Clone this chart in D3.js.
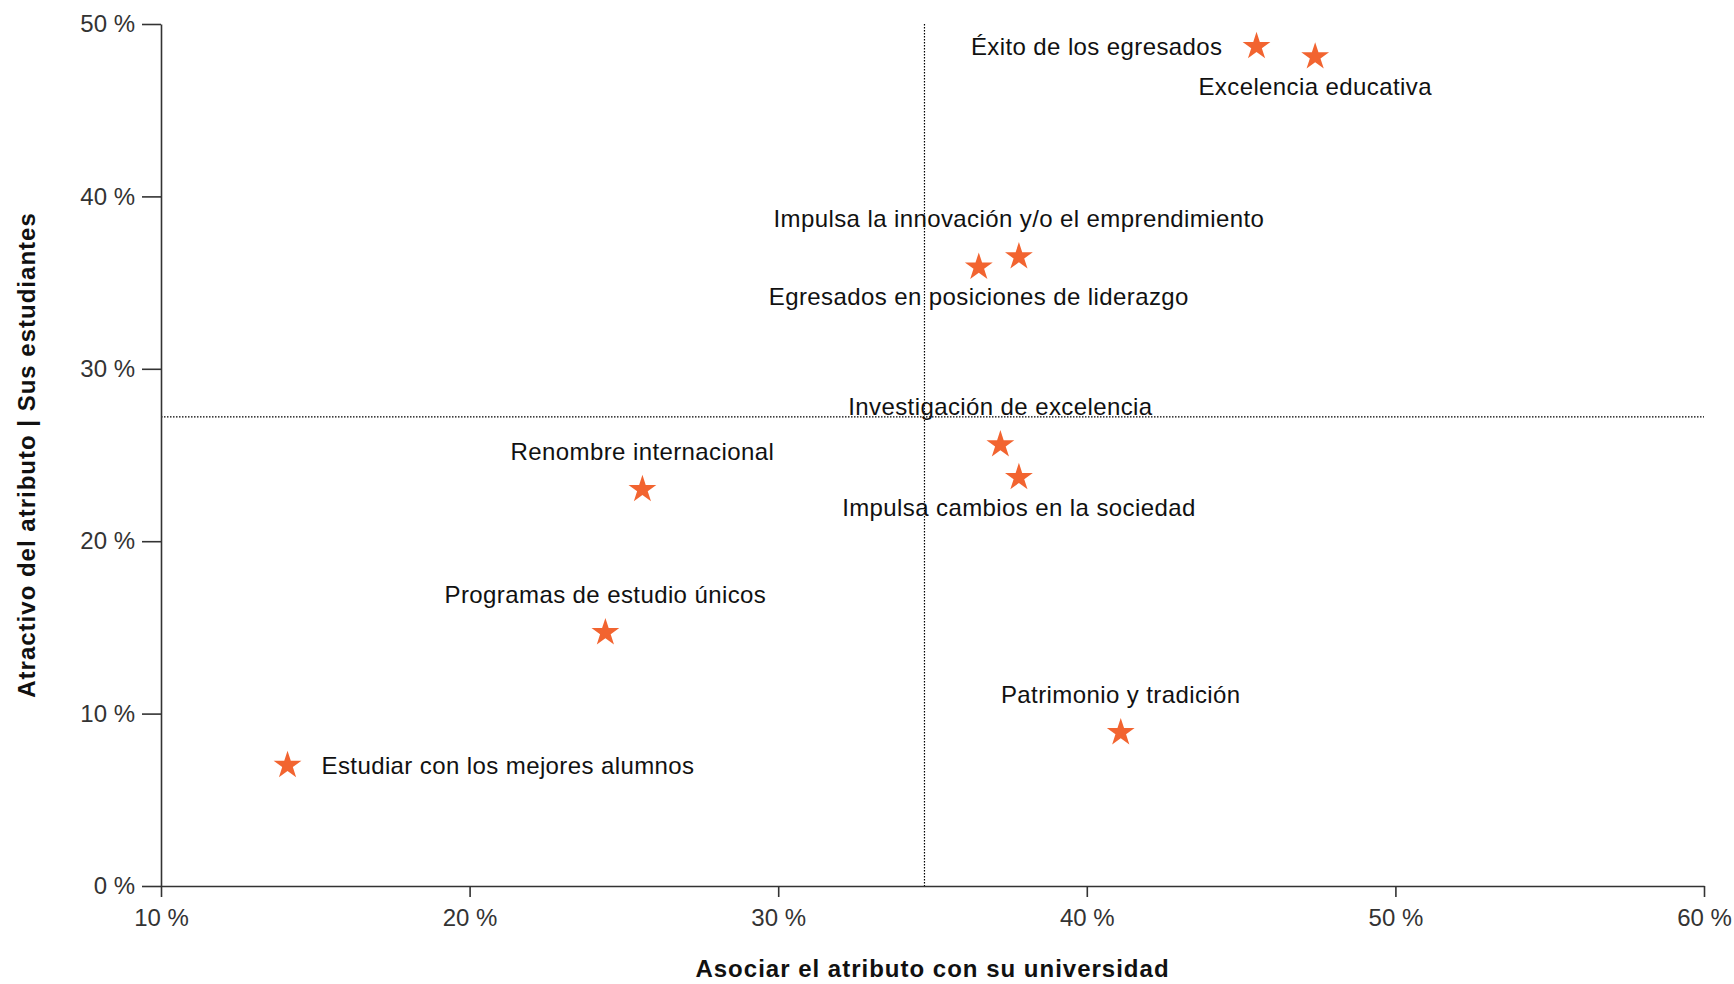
<!DOCTYPE html>
<html>
<head>
<meta charset="utf-8">
<script src="https://cdn.jsdelivr.net/npm/d3@7"></script>
<style>
  body { margin: 0; background: #fff; }
  svg { display: block; font-family: "Liberation Sans", Arial, sans-serif; }
</style>
</head>
<body>
<div class="chart"></div>
<script>
const attributes = [
  "Éxito de los egresados",
  "Excelencia educativa",
  "Impulsa la innovación y/o el emprendimiento",
  "Egresados en posiciones de liderazgo",
  "Investigación de excelencia",
  "Impulsa cambios en la sociedad",
  "Renombre internacional",
  "Programas de estudio únicos",
  "Patrimonio y tradición",
  "Estudiar con los mejores alumnos"
];
// x: asociar el atributo con su universidad (%)
const association = [45.5, 47.4, 37.8, 36.5, 37.2, 37.8, 25.6, 24.4, 41.1, 14.1];
// y: atractivo del atributo (%)
const attractiveness = [48.7, 48.1, 36.5, 35.9, 25.6, 23.7, 23.0, 14.7, 8.9, 7.0];
// where each label sits next to its star
const labelSide = ["left", "below", "above", "below", "above", "below", "above", "above", "above", "right"];

const xTicks = [10, 20, 30, 40, 50, 60];
const yTicks = [0, 10, 20, 30, 40, 50];

const width = 1734, height = 984;
const margin = { top: 24, right: 30, bottom: 98, left: 161 };

const svg = d3.select(".chart")
  .append("svg")
  .attr("width", width)
  .attr("height", height);

const x = d3.scaleLinear()
  .domain([10, 60])
  .range([margin.left, width - margin.right]);

const y = d3.scaleLinear()
  .domain([0, 50])
  .range([height - margin.bottom, margin.top]);

const fmt = d => d + " %";

// mean reference lines
const meanX = d3.mean(association);
const meanY = d3.mean(attractiveness);

svg.append("line")
  .attr("x1", x(meanX)).attr("x2", x(meanX))
  .attr("y1", y(50)).attr("y2", y(0))
  .attr("stroke", "#000")
  .attr("stroke-width", 1.2)
  .attr("stroke-dasharray", "1.5,1.5");

svg.append("line")
  .attr("x1", x(10)).attr("x2", x(60))
  .attr("y1", y(meanY)).attr("y2", y(meanY))
  .attr("stroke", "#000")
  .attr("stroke-width", 1.2)
  .attr("stroke-dasharray", "1.5,1.5");

// axes
const xAxis = svg.append("g")
  .attr("transform", `translate(0,${y(0)})`)
  .call(d3.axisBottom(x).tickValues(xTicks).tickFormat(fmt).tickSize(11).tickSizeOuter(0).tickPadding(12));

const yAxis = svg.append("g")
  .attr("transform", `translate(${x(10)},0)`)
  .call(d3.axisLeft(y).tickValues(yTicks).tickFormat(fmt).tickSize(19).tickSizeOuter(0).tickPadding(7));

[xAxis, yAxis].forEach(a => {
  a.select(".domain").attr("stroke", "#333").attr("stroke-width", 1.6);
  a.selectAll(".tick line").attr("stroke", "#333").attr("stroke-width", 1.6);
  a.selectAll(".tick text")
    .attr("fill", "#333")
    .style("font-size", "24px")
    .style("font-family", "'Liberation Sans', Arial, sans-serif");
});

// axis titles
svg.append("text")
  .attr("x", (x(10) + x(60)) / 2)
  .attr("y", 977)
  .attr("text-anchor", "middle")
  .attr("font-weight", "bold")
  .attr("font-size", 24)
  .attr("letter-spacing", 1)
  .attr("fill", "#111")
  .text("Asociar el atributo con su universidad");

svg.append("text")
  .attr("transform", `translate(27,${(y(0) + y(50)) / 2}) rotate(-90)`)
  .attr("dy", "0.35em")
  .attr("text-anchor", "middle")
  .attr("font-weight", "bold")
  .attr("font-size", 24)
  .attr("letter-spacing", 1)
  .attr("fill", "#111")
  .text("Atractivo del atributo | Sus estudiantes");

// stars
const points = attributes.map((name, i) => ({
  name,
  x: association[i],
  y: attractiveness[i],
  side: labelSide[i]
}));

const star = d3.symbol().type(d3.symbolStar).size(240);

svg.append("g")
  .selectAll("path")
  .data(points)
  .join("path")
  .attr("transform", d => `translate(${x(d.x)},${y(d.y)})`)
  .attr("d", star)
  .attr("fill", "#f26430");

const offsets = {
  left: { dx: -34, dy: 0, anchor: "end" },
  right: { dx: 34, dy: 0, anchor: "start" },
  above: { dx: 0, dy: -38, anchor: "middle" },
  below: { dx: 0, dy: 30, anchor: "middle" }
};

svg.append("g")
  .selectAll("text")
  .data(points)
  .join("text")
  .attr("x", d => x(d.x) + offsets[d.side].dx)
  .attr("y", d => y(d.y) + offsets[d.side].dy)
  .attr("dy", "0.35em")
  .attr("text-anchor", d => offsets[d.side].anchor)
  .attr("font-size", 24)
  .attr("letter-spacing", 0.4)
  .attr("fill", "#111")
  .text(d => d.name);
</script>
</body>
</html>
